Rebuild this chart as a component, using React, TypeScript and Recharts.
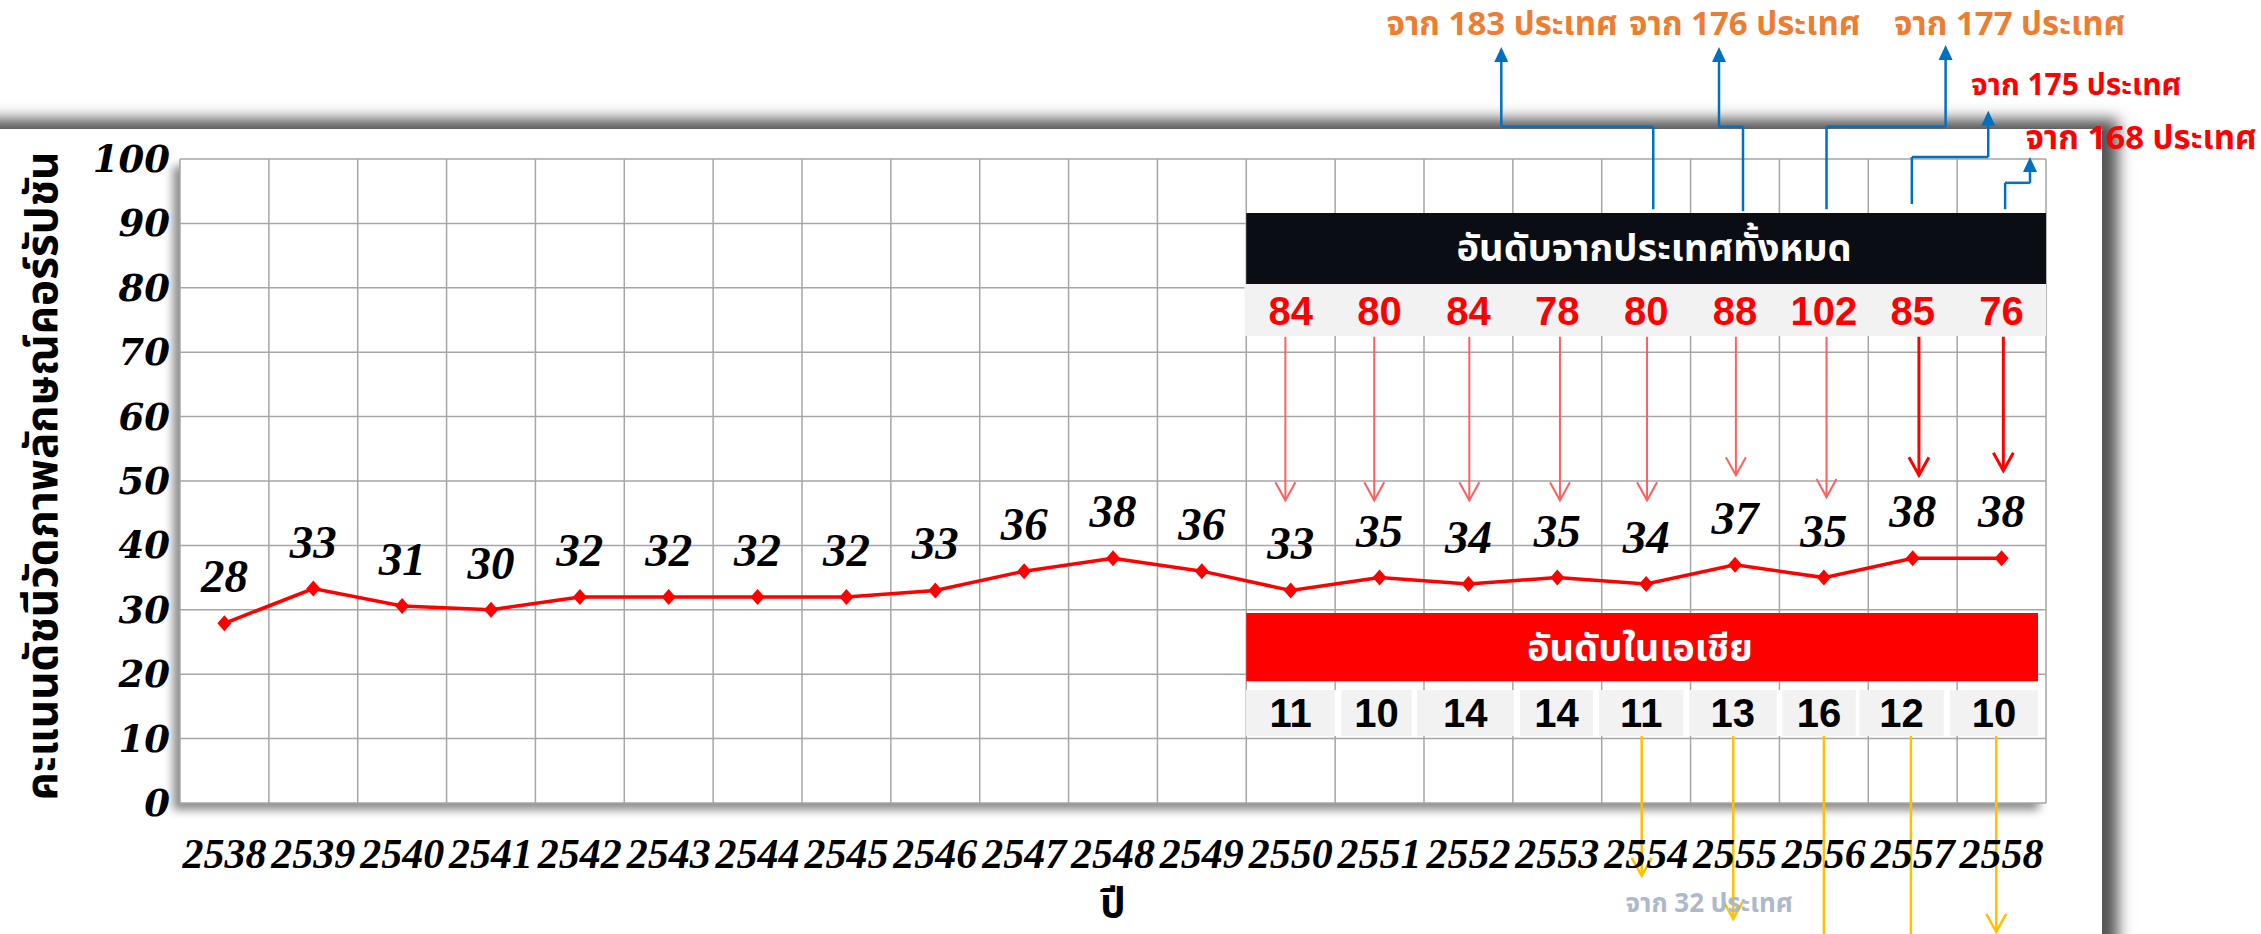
import React from 'react'
import {
  LineChart,
  Line,
  XAxis,
  YAxis,
  CartesianGrid,
  ReferenceArea,
  ReferenceLine,
  ReferenceDot,
  LabelList,
} from 'recharts'

// ปี พ.ศ. และคะแนน CPI
const years = ['2538', '2539', '2540', '2541', '2542', '2543', '2544', '2545', '2546', '2547', '2548',
  '2549', '2550', '2551', '2552', '2553', '2554', '2555', '2556', '2557', '2558']
const scores = [27.9, 33.3, 30.6, 30.0, 32, 32, 32, 32, 33, 36, 38, 36, 33, 35, 34, 35, 34, 37, 35, 38, 38]
const scoreLabels = ['28', '33', '31', '30', '32', '32', '32', '32', '33', '36', '38', '36', '33', '35', '34',
  '35', '34', '37', '35', '38', '38']
const yTicks = [0, 10, 20, 30, 40, 50, 60, 70, 80, 90, 100]

// อันดับ 2550-2558
const worldRank = [84, 80, 84, 78, 80, 88, 102, 85, 76]
const asiaRank = [11, 10, 14, 14, 11, 13, 16, 12, 10]
const totalCountries = ['จาก 183 ประเทศ', 'จาก 176 ประเทศ', 'จาก 177 ประเทศ', 'จาก 175 ประเทศ', 'จาก 168 ประเทศ']
const asiaTotal = 'จาก 32 ประเทศ'

const data = years.map((year, i) => ({ x: i + 0.5, year, score: scores[i], label: scoreLabels[i] }))

// annotation geometry, in chart units (x = column index, y = score)
const worldArrowX = [12.44, 13.44, 14.51, 15.53, 16.51, 17.51, 18.53, 19.57, 20.52]
const worldArrowEnd = [47, 47, 47, 47, 47, 50.9, 47.5, 50.9, 51.6]
const asiaCells = [[12.0, 13.0], [13.07, 13.86], [13.92, 15.01], [15.08, 15.9], [15.97, 16.92],
  [16.98, 17.97], [18.03, 18.86], [18.9, 19.85], [19.92, 20.91]]
const asiaArrowX = [16.45, 17.48, 18.5, 19.48, 20.44]
const asiaArrowEnd = [-11.3, -18.0, -22, -22, -20.0]
const connectors = [
  [[16.58, 92.2], [16.58, 105.0], [14.87, 105.0], [14.87, 117.4]],
  [[17.59, 91.9], [17.59, 105.0], [17.32, 105.0], [17.32, 117.4]],
  [[18.53, 92.2], [18.53, 105.0], [19.87, 105.0], [19.87, 117.7]],
  [[19.49, 93.0], [19.49, 100.3], [20.35, 100.3], [20.35, 107.5]],
  [[20.54, 92.2], [20.54, 96.3], [20.82, 96.3], [20.82, 100.3]],
]
const totalLabelPos = [[14.88, 120.8], [17.61, 120.8], [20.59, 120.8], [21.34, 111.3], [22.07, 103.1]]
const totalLabelColor = ['#ed7d31', '#ed7d31', '#ed7d31', '#ff0000', '#ff0000']
const totalLabelSize = [33, 33, 33, 30, 33]

const SCRIPT = "'Liberation Serif', 'Times New Roman', serif"
const THAI = "'Noto Sans Thai', 'Noto Sans', 'DejaVu Sans', sans-serif"

function XTick(p: any) {
  const i = Math.floor(p.payload.value)
  return (
    <text x={p.x} y={p.y + 65} textAnchor="middle" fontFamily={SCRIPT} fontWeight={700}
      fontStyle="italic" fontSize={42} fill="#000">{years[i]}</text>
  )
}

function YTick(p: any) {
  return (
    <text x={p.x - 10} y={p.y + 13} textAnchor="end" fontFamily="'DejaVu Serif', serif" fontWeight={700}
      fontStyle="italic" fontSize={37} fill="#000">{p.payload.value}</text>
  )
}

function YTitle(p: any) {
  const vb = p.viewBox
  const cx = vb.x + 43
  const cy = vb.y + vb.height / 2 - 5
  return (
    <text transform={`translate(${cx},${cy}) rotate(-90)`} textAnchor="middle" dominantBaseline="central"
      fontFamily={THAI} fontWeight={700} fontSize={44} fill="#000">คะแนนดัชนีวัดภาพลักษณ์คอร์รัปชัน</text>
  )
}

function XTitle(p: any) {
  const vb = p.viewBox
  return (
    <text x={vb.x + vb.width / 2} y={vb.y + 114} textAnchor="middle" fontFamily={THAI}
      fontWeight={700} fontSize={40} fill="#000">ปี</text>
  )
}

function Diamond(p: any) {
  const { cx, cy } = p
  if (cx == null || cy == null) return null
  return <path key={p.index} d={`M${cx},${cy - 8}L${cx + 7},${cy}L${cx},${cy + 8}L${cx - 7},${cy}Z`} fill="#ff0000" />
}

function ScoreLabel(p: any) {
  const x = p.x ?? p.viewBox?.x
  const y = p.y ?? p.viewBox?.y
  return (
    <text x={x} y={y - 31} textAnchor="middle" fontFamily={SCRIPT} fontWeight={700}
      fontStyle="italic" fontSize={47} fill="#000">{p.value}</text>
  )
}

function textMark(txt: string, color: string, size: number, family = THAI) {
  return (p: any) => (
    <text x={p.cx} y={p.cy} textAnchor="middle" dominantBaseline="central" fontFamily={family}
      fontWeight={700} fontSize={size} fill={color}>{txt}</text>
  )
}

function arrow(color: string, width: number, head: 'open' | 'filled' | 'none', hw = 10, hl = 18) {
  return (p: any) => {
    const { x1, y1, x2, y2 } = p
    const dx = x2 - x1
    const dy = y2 - y1
    const len = Math.hypot(dx, dy) || 1
    const ux = dx / len
    const uy = dy / len
    const bx = x2 - ux * hl
    const by = y2 - uy * hl
    const px = -uy * hw
    const py = ux * hw
    const ex = head === 'filled' ? bx : x2
    const ey = head === 'filled' ? by : y2
    return (
      <g>
        <line x1={x1} y1={y1} x2={ex} y2={ey} stroke={color} strokeWidth={width} />
        {head === 'open' && (
          <polyline points={`${bx + px},${by + py} ${x2},${y2} ${bx - px},${by - py}`} fill="none"
            stroke={color} strokeWidth={width} />
        )}
        {head === 'filled' && (
          <polygon points={`${bx + px},${by + py} ${x2},${y2} ${bx - px},${by - py}`} fill={color} />
        )}
      </g>
    )
  }
}

export default function App() {
  return (
    <div style={{ position: 'absolute', left: 0, top: 0, width: 2261, height: 934, overflow: 'hidden', background: '#fff' }}>
      <style>{`.recharts-cartesian-grid-bg { filter: drop-shadow(-7px 7px 5px rgba(0,0,0,0.45)); }`}</style>
      <div style={{ position: 'absolute', left: -40, top: 129, width: 2142, height: 900, background: '#fff',
        boxShadow: '16px -10px 14px 0 #555' }} />
      <div style={{ position: 'absolute', left: 0, top: 0 }}>
        <LineChart width={2261} height={934} data={data} margin={{ top: 159, right: 215, bottom: 31, left: 0 }}>
          <CartesianGrid stroke="#a6a6a6" strokeWidth={1.5} fill="#fff" fillOpacity={1}
            verticalCoordinatesGenerator={({ offset }: any) =>
              Array.from({ length: 22 }, (_, k) => offset.left + (offset.width * k) / 21)} />
          <XAxis type="number" dataKey="x" domain={[0, 21]} ticks={data.map(d => d.x)} interval={0}
            tick={XTick} tickLine={false} axisLine={false} tickSize={0} tickMargin={0} height={100}
            label={{ content: XTitle }} />
          <YAxis type="number" domain={[0, 100]} ticks={yTicks} interval={0} tick={YTick} tickLine={false}
            axisLine={false} tickSize={0} tickMargin={0} width={180} label={{ content: YTitle }} />

          <ReferenceArea x1={12} x2={21} y1={80.6} y2={91.6} fill="#0a0d14" fillOpacity={1} stroke="none" ifOverflow="visible" />
          <ReferenceArea x1={11.98} x2={21} y1={72.5} y2={80.6} fill="#f2f2f2" fillOpacity={1} stroke="none" ifOverflow="visible" />
          <ReferenceArea x1={12} x2={20.91} y1={18.9} y2={29.5} fill="#ff0000" fillOpacity={1} stroke="none" ifOverflow="visible" />
          <ReferenceArea x1={12} x2={20.91} y1={10.4} y2={17.55} fill="#ffffff" fillOpacity={1} stroke="none" ifOverflow="visible" />
          {asiaCells.map((c, i) => (
            <ReferenceArea key={`cell${i}`} x1={c[0]} x2={c[1]} y1={10.4} y2={17.55} fill="#f2f2f2"
              fillOpacity={1} stroke="none" ifOverflow="visible" />
          ))}

          <ReferenceDot x={16.59} y={86.0} r={0} ifOverflow="visible" shape={textMark('อันดับจากประเทศทั้งหมด', '#ffffff', 38)} />
          <ReferenceDot x={16.43} y={23.8} r={0} ifOverflow="visible" shape={textMark('อันดับในเอเชีย', '#ffffff', 38)} />
          {worldRank.map((v, i) => (
            <ReferenceDot key={`w${i}`} x={12.5 + i} y={76.4} r={0} ifOverflow="visible"
              shape={textMark(String(v), '#ff0000', 40, "'Liberation Sans', sans-serif")} />
          ))}
          {asiaRank.map((v, i) => (
            <ReferenceDot key={`a${i}`} x={(asiaCells[i][0] + asiaCells[i][1]) / 2} y={14.0} r={0} ifOverflow="visible"
              shape={textMark(String(v), '#000000', 40, "'Liberation Sans', sans-serif")} />
          ))}

          {worldArrowX.map((x, i) => (
            <ReferenceLine key={`wa${i}`} segment={[{ x, y: 72.4 }, { x, y: worldArrowEnd[i] }]} ifOverflow="visible"
              shape={i < 7 ? arrow('#ff5f5f', 2, 'open') : arrow('#ff0000', 3, 'open')} />
          ))}
          {asiaArrowX.map((x, i) => (
            <ReferenceLine key={`aa${i}`} segment={[{ x, y: 10.4 }, { x, y: asiaArrowEnd[i] }]} ifOverflow="visible"
              shape={arrow('#ffc000', 2.5, i === 2 || i === 3 ? 'none' : 'open')} />
          ))}
          {connectors.map((pts, c) =>
            pts.slice(0, 3).map((pt, k) => (
              <ReferenceLine key={`c${c}-${k}`} ifOverflow="visible"
                segment={[{ x: pt[0], y: pt[1] }, { x: pts[k + 1][0], y: pts[k + 1][1] }]}
                shape={arrow('#0070c0', 2.5, k === 2 ? 'filled' : 'none', 7, 15)} />
            ))
          )}
          {totalCountries.map((t, i) => (
            <ReferenceDot key={`t${i}`} x={totalLabelPos[i][0]} y={totalLabelPos[i][1]} r={0} ifOverflow="visible"
              shape={textMark(t, totalLabelColor[i], totalLabelSize[i])} />
          ))}
          <ReferenceDot x={17.21} y={-15.7} r={0} ifOverflow="visible" shape={textMark(asiaTotal, '#acb9ca', 26)} />

          <Line type="linear" dataKey="score" stroke="#ff0000" strokeWidth={3.5} dot={Diamond}
            activeDot={false} isAnimationActive={false}>
            <LabelList dataKey="label" content={ScoreLabel} />
          </Line>
        </LineChart>
      </div>
    </div>
  )
}
